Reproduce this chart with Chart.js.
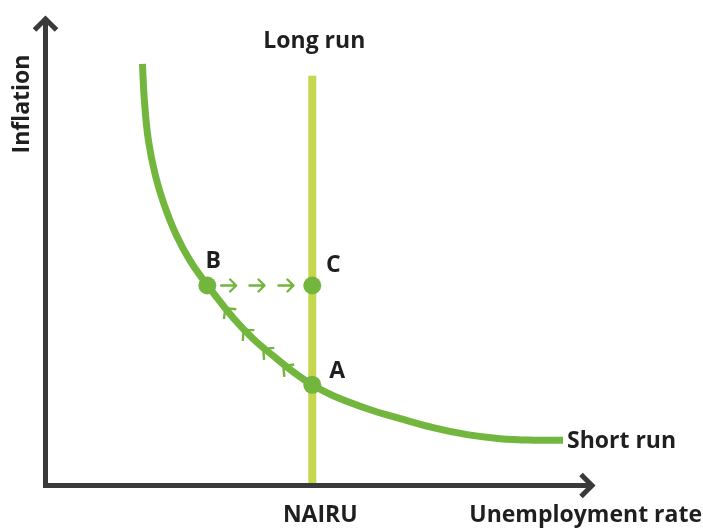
<!DOCTYPE html>
<html><head><meta charset="utf-8">
<script src="https://cdn.jsdelivr.net/npm/chart.js@4/dist/chart.umd.min.js"></script>
<style>html,body{margin:0;padding:0;background:#fff}</style>
</head><body>
<canvas id="c" width="703" height="529"></canvas>
<script>
// Short-run Phillips curve (unemployment, inflation) in chart units
const shortRunX = [1.764, 1.800, 1.873, 2.000, 2.164, 2.382, 2.636, 2.945, 3.418, 3.782, 4.145, 4.509, 4.855, 5.236, 5.855, 6.455, 7.055, 7.673, 8.273, 8.873, 9.418];
const shortRunY = [8.981, 8.195, 7.346, 6.603, 5.966, 5.329, 4.777, 4.268, 3.567, 3.121, 2.760, 2.420, 2.144, 1.911, 1.635, 1.423, 1.231, 1.083, 0.998, 0.966, 0.966];
// Long-run (vertical at NAIRU)
const nairu = 4.855;
const longRunY = [0, 8.73];
// Labelled points
const pointNames = ['B', 'C', 'A'];
const pointX = [2.945, 4.855, 4.855];
const pointY = [4.26, 4.26, 2.144];
// Arrows B -> C
const shiftArrowX = [3.333, 3.849, 4.376];
const shiftArrowY = 4.26;
// Arrowheads along the curve A -> B
const curveArrowX = [3.273, 3.600, 3.964, 4.327];
const curveArrowY = [3.779, 3.312, 2.909, 2.548];
// Text
const yTitle = 'Inflation';
const xTitle = 'Unemployment rate';
const longRunLabel = 'Long run';
const shortRunLabel = 'Short run';
const nairuLabel = 'NAIRU';

const green = '#72b63e';
const lime = '#c6d64d';
const axisColor = '#3a3a3a';
const textColor = '#1f1f1f';
const FONT = '"Open Sans", "Noto Sans", sans-serif';

const overlay = {
  id: 'overlay',
  afterDatasetsDraw(chart) {
    const {ctx, scales: {x, y}} = chart;
    const X = v => x.getPixelForValue(v), Y = v => y.getPixelForValue(v);
    ctx.save();
    ctx.strokeStyle = green; ctx.lineWidth = 2.4; ctx.lineCap = 'round'; ctx.lineJoin = 'round';
    // horizontal arrows B -> C
    shiftArrowX.forEach(v => {
      const cx = X(v), cy = Y(shiftArrowY);
      ctx.beginPath();
      ctx.moveTo(cx - 7.5, cy); ctx.lineTo(cx + 7.5, cy);
      ctx.moveTo(cx + 1.5, cy - 6); ctx.lineTo(cx + 7.5, cy); ctx.lineTo(cx + 1.5, cy + 6);
      ctx.stroke();
    });
    // arrowheads along the curve, pointing toward B (up-left)
    ctx.lineCap = 'butt';
    curveArrowX.forEach((v, i) => {
      let k = 0;
      while (k < shortRunX.length - 2 && shortRunX[k + 1] < v) k++;
      const dx = X(shortRunX[k]) - X(shortRunX[k + 1]);
      const dy = Y(shortRunY[k]) - Y(shortRunY[k + 1]);
      const ang = Math.atan2(dy, dx);
      const px = X(v), py = Y(curveArrowY[i]);
      const L = 11, a = 0.8;
      ctx.beginPath();
      ctx.moveTo(px - L * Math.cos(ang - a), py - L * Math.sin(ang - a));
      ctx.lineTo(px, py);
      ctx.lineTo(px - L * Math.cos(ang + a), py - L * Math.sin(ang + a));
      ctx.stroke();
    });
    // axes with arrowheads
    const x0 = X(0), y0 = Y(0), yTop = Y(10), xRight = X(10);
    ctx.strokeStyle = axisColor; ctx.lineWidth = 5; ctx.lineCap = 'butt'; ctx.lineJoin = 'miter';
    ctx.beginPath();
    ctx.moveTo(x0, yTop + 3); ctx.lineTo(x0, y0); ctx.lineTo(xRight - 3, y0);
    ctx.stroke();
    ctx.beginPath();
    ctx.moveTo(x0 - 11, yTop + 14); ctx.lineTo(x0, yTop + 3); ctx.lineTo(x0 + 11, yTop + 14);
    ctx.moveTo(xRight - 14, y0 - 11); ctx.lineTo(xRight - 3, y0); ctx.lineTo(xRight - 14, y0 + 11);
    ctx.stroke();
    // text
    ctx.fillStyle = textColor;
    ctx.font = 'bold 23px ' + FONT;
    ctx.textBaseline = 'alphabetic';
    ctx.textAlign = 'center';
    ctx.fillText(longRunLabel, X(nairu) + 2, 48);
    ctx.fillText(nairuLabel, X(nairu) + 8, 522);
    ctx.textAlign = 'right';
    ctx.fillText(xTitle, 702, 522);
    ctx.textAlign = 'left';
    ctx.fillText(shortRunLabel, 567, 448);
    ctx.save();
    ctx.translate(28.5, 104);
    ctx.rotate(-Math.PI / 2);
    ctx.textAlign = 'center';
    ctx.fillText(yTitle, 0, 0);
    ctx.restore();
    // point labels
    const offs = [[6, -17], [21, -13], [25, -7]];
    ctx.textAlign = 'center';
    pointNames.forEach((n, i) => {
      ctx.fillText(n, X(pointX[i]) + offs[i][0], Y(pointY[i]) + offs[i][1]);
    });
    ctx.restore();
  }
};

new Chart(document.getElementById('c'), {
  type: 'scatter',
  data: {
    datasets: [
      {
        label: 'points', order: 0,
        data: pointX.map((v, i) => ({x: v, y: pointY[i]})),
        pointRadius: 9, pointBackgroundColor: green, pointBorderWidth: 0, showLine: false
      },
      {
        label: shortRunLabel, order: 1,
        data: shortRunX.map((v, i) => ({x: v, y: shortRunY[i]})),
        showLine: true, borderColor: green, borderWidth: 7, pointRadius: 0,
        tension: 0.4, borderCapStyle: 'butt', fill: false
      },
      {
        label: longRunLabel, order: 2,
        data: longRunY.map(v => ({x: nairu, y: v})),
        showLine: true, borderColor: lime, borderWidth: 8, pointRadius: 0, borderCapStyle: 'butt'
      }
    ]
  },
  options: {
    responsive: false,
    animation: false,
    events: [],
    layout: {padding: {left: 45.5, right: 108, top: 16, bottom: 43.5}},
    plugins: {legend: {display: false}, tooltip: {enabled: false}},
    scales: {
      x: {type: 'linear', min: 0, max: 10, display: false},
      y: {type: 'linear', min: 0, max: 10, display: false}
    }
  },
  plugins: [overlay]
});
</script>
</body></html>
